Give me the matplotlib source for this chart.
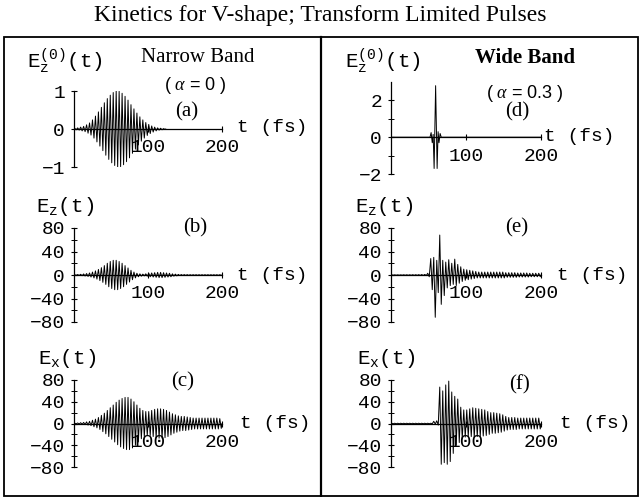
import numpy as np
import matplotlib
matplotlib.use("Agg")
import matplotlib.pyplot as plt
from matplotlib.patches import Rectangle
from matplotlib.lines import Line2D

W, H, DPI = 641, 497, 100
plt.rcParams["mathtext.fontset"] = "custom"
plt.rcParams["mathtext.rm"] = "Liberation Mono"
plt.rcParams["mathtext.it"] = "Liberation Serif:italic"

MONO = "Liberation Mono"
SERIF = "Liberation Serif"

title = "Kinetics for V-shape; Transform Limited Pulses"

# carrier period (fs) of the zig-zag drawn between successive extrema
period = 4.0

# (a) narrow-band incident field: peak amplitude of each optical cycle
env_a = [0.02, 0.03, 0.05, 0.07, 0.11, 0.16, 0.24, 0.34, 0.45, 0.57,
         0.69, 0.80, 0.89, 0.96, 1.00, 0.99, 0.94, 0.86, 0.76, 0.64,
         0.53, 0.42, 0.32, 0.24, 0.17, 0.12, 0.08, 0.05, 0.03, 0.02, 0.01]

# (b) narrow-band E_z(t)
env_b = [0.5, 0.8, 1.2, 1.8, 2.5, 3.5, 5, 7, 9.5, 12.5,
         16, 20, 23, 25, 25, 23, 20, 16, 12, 8,
         5, 3, 2, 1.5, 2, 3, 3.5, 4, 4.5, 4.5,
         4, 3.5, 3, 2, 1.5, 1, 0.8, 0.7, 0.6, 0.5,
         0.5, 0.5, 0.5, 0.5, 0.5, 0.5, 0.5, 0.5, 0.5, 0.5]

# (c) narrow-band E_x(t)
env_c = [0.5, 1, 1.5, 2, 3, 4, 6, 8, 11, 15,
         19, 24, 29, 34, 39, 43, 46, 48, 48, 45,
         40, 34, 28, 24, 22, 22, 24, 26, 27, 27,
         26, 24, 21, 18, 16, 14, 13, 13, 12, 11,
         10, 10, 10, 10, 10, 10, 10, 10, 10, 9]

# (d) wide-band incident field: a single-cycle pulse (t in fs, field)
t_d = [0, 52, 53.5, 55, 56.2, 57.5, 59.5, 61.5, 62.8, 64, 65.5, 67, 200]
e_d = [0, 0, 0.25, -0.3, 0.15, -1.7, 2.8, -1.7, 0.3, -0.3, 0.2, 0, 0]

# (e) wide-band E_z(t): positive / negative excursion of each cycle
pos_e = [0.3, 0.3, 0.3, 0.3, 0.4, 0.4, 0.4, 0.5, 0.5, 0.6,
         0.8, 1, 3, 28, 30, 25, 68, 25, 22, 26,
         20, 27, 18, 14, 10, 9, 8, 7, 6, 5,
         5, 5, 5, 5, 5, 5, 5, 5, 4, 4,
         4, 4, 3.5, 3.5, 3.5, 3.5, 3, 3, 3, 3]
neg_e = [0.3, 0.3, 0.3, 0.3, 0.4, 0.4, 0.4, 0.5, 0.5, 0.6,
         0.8, 1, 3, 25, 72, 30, 50, 35, 22, 18,
         16, 18, 14, 11, 9, 8, 7, 6, 5, 5,
         5, 5, 5, 5, 5, 5, 5, 5, 4, 4,
         4, 4, 3.5, 3.5, 3.5, 3.5, 3, 3, 3, 3]

# (f) wide-band E_x(t)
pos_f = [0.5, 0.5, 0.5, 0.5, 0.5, 0.5, 0.5, 0.5, 0.5, 0.5,
         0.5, 0.5, 0.5, 0.5, 4, 5, 67, 60, 71, 78,
         58, 50, 45, 30, 25, 25, 27, 29, 28, 27,
         26, 25, 22, 20, 20, 19, 18, 16, 13, 11,
         11, 11, 10, 10, 10, 10, 10, 10, 10, 10]
neg_f = [0.5, 0.5, 0.5, 0.5, 0.5, 0.5, 0.5, 0.5, 0.5, 0.5,
         0.5, 0.5, 0.5, 0.5, 1, 3, 75, 72, 75, 70,
         55, 40, 35, 28, 25, 24, 24, 25, 24, 24,
         23, 22, 20, 18, 18, 17, 16, 14, 12, 11,
         11, 11, 10, 10, 10, 10, 10, 10, 10, 10]

x_ticks = [100, 200]
x_tick_labels = ["100", "200"]


def cycles(pos, neg, T):
    """Zig-zag through the extrema: +pos at a quarter period, -neg at
    three quarters of each cycle."""
    t, e = [0.0], [0.0]
    for k, (p, n) in enumerate(zip(pos, neg)):
        t += [k * T + T / 4, k * T + 3 * T / 4]
        e += [p, -n]
    t.append(len(pos) * T)
    e.append(0.0)
    return np.array(t), np.array(e)


def fx(px):
    return px / W


def fy(py):
    return 1 - py / H


def make_axes(x0, x200, ytop, ybot, ylo, yhi):
    ax = fig.add_axes([fx(x0), fy(ybot), (x200 - x0) / W, (ybot - ytop) / H])
    ax.set_xlim(0, 200)
    ax.set_ylim(ylo, yhi)
    ax.patch.set_alpha(0)
    for s in ("top", "right"):
        ax.spines[s].set_visible(False)
    ax.spines["bottom"].set_position(("data", 0))
    for s in ("left", "bottom"):
        ax.spines[s].set_linewidth(0.9)
    ax.set_xticks(x_ticks)
    ax.set_xticklabels(x_tick_labels, family=MONO, fontsize=14)
    ax.tick_params(axis="both", direction="inout", length=5, width=0.8)
    ax.tick_params(axis="x", pad=5)
    ax.tick_params(axis="y", pad=4)
    ax.tick_params(which="minor", direction="inout", length=4, width=0.7)
    return ax


def set_y(ax, major, labels, minor):
    ax.set_yticks(major)
    ax.set_yticklabels(labels, family=MONO, fontsize=14)
    ax.set_yticks(minor, minor=True)


def txt(x, y, s, **kw):
    kw.setdefault("va", "center")
    fig.text(fx(x), fy(y), s, **kw)


fig = plt.figure(figsize=(W / DPI, H / DPI), dpi=DPI)

# title and panel frame
txt(320, 16, title, ha="center", family=SERIF, fontsize=17)
fig.add_artist(Rectangle((fx(4), fy(496)), (638 - 4) / W, (496 - 37) / H,
                         transform=fig.transFigure, fill=False,
                         lw=1.3, ec="black"))
fig.add_artist(Line2D([fx(321), fx(321)], [fy(37), fy(496)],
                      transform=fig.transFigure, lw=1.6, color="black"))

LW = 0.7
LX0, LX200 = 74, 222
RX0, RX200 = 391, 541
labels80 = ["80", "40", "0", "\u221240", "\u221280"]
major80 = [80, 40, 0, -40, -80]
minor80 = [60, 20, -20, -60]

# (a)
ax = make_axes(LX0, LX200, 91, 167, -1, 1)
set_y(ax, [1, 0, -1], ["1", "0", "\u22121"], [])
t, e = cycles(env_a, env_a, period)
ax.plot(t, e, color="black", lw=LW)

# (b)
ax = make_axes(LX0, LX200, 228, 322, -80, 80)
set_y(ax, major80, labels80, minor80)
t, e = cycles(env_b, env_b, period)
ax.plot(t, e, color="black", lw=LW)

# (c)
ax = make_axes(LX0, LX200, 380, 467, -80, 80)
set_y(ax, major80, labels80, minor80)
t, e = cycles(env_c, env_c, period)
ax.plot(t, e, color="black", lw=LW)

# (d)
ax = make_axes(RX0, RX200, 82, 174, -2, 3)
set_y(ax, [2, 0, -2], ["2", "0", "\u22122"], [1, -1])
ax.plot(t_d, e_d, color="black", lw=LW)

# (e)
ax = make_axes(RX0, RX200, 228, 322, -80, 80)
set_y(ax, major80, labels80, minor80)
t, e = cycles(pos_e, neg_e, period)
ax.plot(t, e, color="black", lw=LW)

# (f)
ax = make_axes(RX0, RX200, 380, 467, -80, 80)
set_y(ax, major80, labels80, minor80)
t, e = cycles(pos_f, neg_f, period)
ax.plot(t, e, color="black", lw=LW)

# panel annotations
EZ0 = r"$\mathrm{E}_\mathrm{z}^{\mathrm{(0)}}\mathrm{(t)}$"
EZ = r"$\mathrm{E}_\mathrm{z}\mathrm{(t)}$"
EX = r"$\mathrm{E}_\mathrm{x}\mathrm{(t)}$"
for x0 in (27, 345):
    txt(x0, 61, EZ0, ha="left", fontsize=15)
for x0 in (36, 355):
    txt(x0, 206, EZ, ha="left", fontsize=15)
    txt(x0 + 2, 358, EX, ha="left", fontsize=15)

txt(198, 58, "Narrow Band", ha="center", family=SERIF, fontsize=15)
txt(525, 58, "Wide Band", ha="center", family=SERIF, fontsize=15,
    weight="bold")
txt(195, 85, r"( $\alpha$ = 0 )", ha="center", family="Liberation Sans",
    fontsize=13)
txt(525, 93, r"( $\alpha$ = 0.3 )", ha="center", family="Liberation Sans",
    fontsize=13)

for x0, y0, s in [(187, 112, "(a)"), (195, 228, "(b)"), (183, 382, "(c)"),
                  (517, 112, "(d)"), (517, 228, "(e)"), (519, 385, "(f)")]:
    txt(x0, y0, s, ha="center", family=SERIF, fontsize=15)

for x0, y0 in [(237, 128), (237, 275), (240, 424),
               (544, 137), (557, 275), (560, 424)]:
    txt(x0, y0, "t (fs)", ha="left", family=MONO, fontsize=14)

fig.savefig("out.png", dpi=DPI)
